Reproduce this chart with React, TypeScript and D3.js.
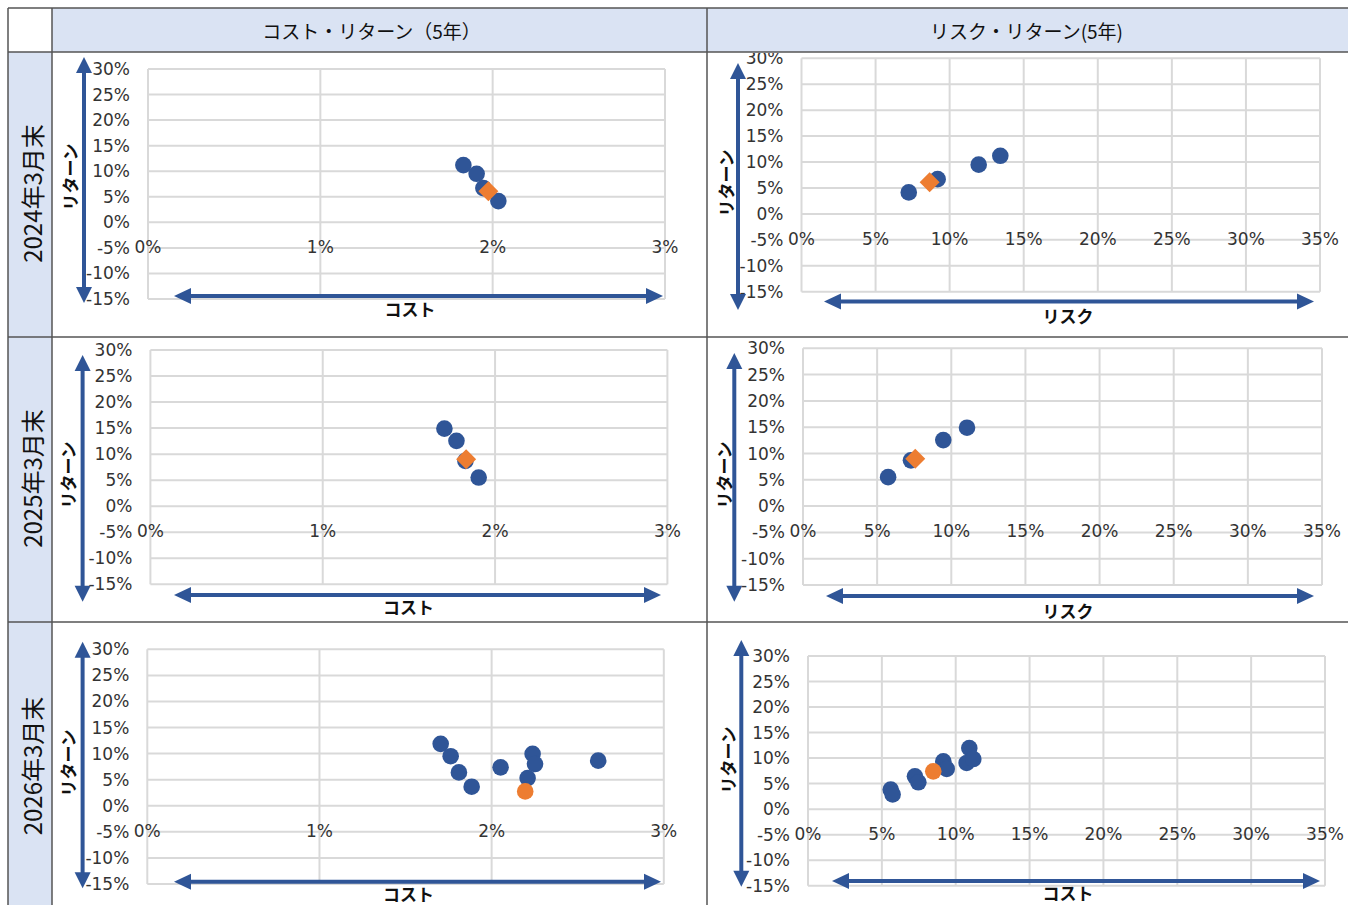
import React from "react";
import * as d3 from "d3";

// ---- Text ----
const headerLabels = ["コスト・リターン（5年）", "リスク・リターン(5年)"];
const rowLabels = ["2024年3月末", "2025年3月末", "2026年3月末"];
const returnTitle = "リターン";
const xTitles = [
  ["コスト", "リスク"],
  ["コスト", "リスク"],
  ["コスト", "コスト"],
];

// ---- Ticks (%) ----
const returnTicks = [-15, -10, -5, 0, 5, 10, 15, 20, 25, 30];
const costTicks = [0, 1, 2, 3];
const riskTicks = [0, 5, 10, 15, 20, 25, 30, 35];

// ---- 2024年3月末 ----
const cost2024 = [1.83, 1.907, 1.946, 2.033];
const risk2024 = [13.42, 11.96, 9.19, 7.24];
const return2024 = [11.2, 9.5, 6.7, 4.15];
const avgCost2024 = [1.975];
const avgRisk2024 = [8.65];
const avgReturn2024 = [6.1];

// ---- 2025年3月末 ----
const cost2025 = [1.706, 1.776, 1.828, 1.905];
const risk2025 = [11.06, 9.46, 7.28, 5.74];
const return2025 = [14.9, 12.55, 8.7, 5.5];
const avgCost2025 = [1.832];
const avgRisk2025 = [7.57];
const avgReturn2025 = [9.0];

// ---- 2026年3月末 (コスト・リターン) ----
const cost2026 = [1.704, 1.762, 1.81, 1.884, 2.052, 2.238, 2.252, 2.209, 2.619];
const returnCost2026 = [11.87, 9.5, 6.4, 3.65, 7.37, 9.94, 8.0, 5.3, 8.65];
const avgCost2026 = [2.195];
const avgReturnCost2026 = [2.75];

// ---- 2026年3月末 (リスク・リターン) ----
const risk2026 = [5.6, 5.73, 7.24, 7.47, 9.16, 9.39, 10.92, 10.74, 11.19];
const returnRisk2026 = [3.84, 2.87, 6.43, 5.26, 9.36, 7.87, 11.97, 9.04, 9.82];
const avgRisk2026 = [8.48];
const avgReturnRisk2026 = [7.4];

// ---- Styles ----
const BLUE = "#2f5597";
const ORANGE = "#ed7d31";
const GRID = "#d9d9d9";
const HEAD_FILL = "#dae3f3";
const BORDER = "#555555";
const TICK_FONT = "'DejaVu Sans', Verdana, sans-serif";
const JP_FONT = "'Noto Sans CJK JP', 'Noto Sans', sans-serif";

const colX = [8, 52, 707, 1352];
const rowY = [8, 52, 337, 622, 912];

type Geo = {
  x0: number; x1: number; y0: number; y1: number;
  ax: number; ay0: number; ay1: number;
  hy: number; hx0: number; hx1: number;
  ytx: number; yty: number; xtx: number; xty: number;
};

const geos: Geo[][] = [
  [
    { x0: 148, x1: 665, y0: 69, y1: 299, ax: 84, ay0: 57, ay1: 303, hy: 296, hx0: 174, hx1: 663, ytx: 69, yty: 177, xtx: 410, xty: 308 },
    { x0: 801.5, x1: 1320, y0: 58.3, y1: 291.7, ax: 738, ay0: 63, ay1: 310, hy: 301.5, hx0: 824, hx1: 1314, ytx: 725, yty: 183, xtx: 1068, xty: 315 },
  ],
  [
    { x0: 150.4, x1: 667.4, y0: 350, y1: 584.3, ax: 82.6, ay0: 355, ay1: 601.7, hy: 595, hx0: 174, hx1: 661, ytx: 67, yty: 475, xtx: 408.5, xty: 606.7 },
    { x0: 803, x1: 1322, y0: 348.3, y1: 585, ax: 734.3, ay0: 353, ay1: 601.7, hy: 596, hx0: 826, hx1: 1314, ytx: 723, yty: 475, xtx: 1068, xty: 610 },
  ],
  [
    { x0: 147.3, x1: 663.8, y0: 649.3, y1: 884, ax: 82.6, ay0: 641.7, ay1: 888.3, hy: 881.7, hx0: 174, hx1: 661, ytx: 67, yty: 763, xtx: 408.5, xty: 893 },
    { x0: 808, x1: 1325, y0: 656, y1: 885.7, ax: 741.3, ay0: 640, ay1: 886.7, hy: 881, hx0: 832, hx1: 1320, ytx: 727, yty: 760, xtx: 1068, xty: 892 },
  ],
];

type PanelData = {
  xTicks: number[];
  bx: number[]; by: number[];
  ox: number[]; oy: number[];
  orangeShape: "diamond" | "circle";
};

const panels: PanelData[][] = [
  [
    { xTicks: costTicks, bx: cost2024, by: return2024, ox: avgCost2024, oy: avgReturn2024, orangeShape: "diamond" },
    { xTicks: riskTicks, bx: risk2024, by: return2024, ox: avgRisk2024, oy: avgReturn2024, orangeShape: "diamond" },
  ],
  [
    { xTicks: costTicks, bx: cost2025, by: return2025, ox: avgCost2025, oy: avgReturn2025, orangeShape: "diamond" },
    { xTicks: riskTicks, bx: risk2025, by: return2025, ox: avgRisk2025, oy: avgReturn2025, orangeShape: "diamond" },
  ],
  [
    { xTicks: costTicks, bx: cost2026, by: returnCost2026, ox: avgCost2026, oy: avgReturnCost2026, orangeShape: "circle" },
    { xTicks: riskTicks, bx: risk2026, by: returnRisk2026, ox: avgRisk2026, oy: avgReturnRisk2026, orangeShape: "circle" },
  ],
];

const diamondPath = d3.symbol().type(d3.symbolSquare).size(200)() as string;

function DoubleArrowV({ x, y0, y1 }: { x: number; y0: number; y1: number }) {
  const h = 16, w = 8;
  return (
    <g fill={BLUE} stroke="none">
      <line x1={x} x2={x} y1={y0 + h - 1} y2={y1 - h + 1} stroke={BLUE} strokeWidth={4} />
      <path d={`M${x},${y0} L${x + w},${y0 + h} L${x - w},${y0 + h} Z`} />
      <path d={`M${x},${y1} L${x + w},${y1 - h} L${x - w},${y1 - h} Z`} />
    </g>
  );
}

function DoubleArrowH({ y, x0, x1 }: { y: number; x0: number; x1: number }) {
  const h = 17, w = 8;
  return (
    <g fill={BLUE} stroke="none">
      <line x1={x0 + h - 1} x2={x1 - h + 1} y1={y} y2={y} stroke={BLUE} strokeWidth={4} />
      <path d={`M${x0},${y} L${x0 + h},${y - w} L${x0 + h},${y + w} Z`} />
      <path d={`M${x1},${y} L${x1 - h},${y - w} L${x1 - h},${y + w} Z`} />
    </g>
  );
}

function Panel({ g, d, title, clipId }: { g: Geo; d: PanelData; title: string; clipId: string }) {
  const xMax = d.xTicks[d.xTicks.length - 1];
  const xs = d3.scaleLinear().domain([0, xMax]).range([g.x0, g.x1]);
  const ys = d3.scaleLinear().domain([-15, 30]).range([g.y1, g.y0]);
  const y0v = ys(0);
  return (
    <g clipPath={`url(#${clipId})`}>
      {returnTicks.map((t) => (
        <line key={"h" + t} x1={g.x0} x2={g.x1} y1={ys(t)} y2={ys(t)} stroke={GRID} strokeWidth={2} />
      ))}
      {d.xTicks.map((t) => (
        <line key={"v" + t} x1={xs(t)} x2={xs(t)} y1={g.y0} y2={g.y1} stroke={GRID} strokeWidth={2} />
      ))}
      {returnTicks.map((t) => (
        <text key={"yl" + t} x={g.x0 - 18} y={ys(t)} textAnchor="end" dominantBaseline="central"
          fontFamily={TICK_FONT} fontSize={17} fill="#333">{t + "%"}</text>
      ))}
      {d.xTicks.map((t) => (
        <text key={"xl" + t} x={xs(t)} y={y0v + 25} textAnchor="middle" dominantBaseline="central"
          fontFamily={TICK_FONT} fontSize={17} fill="#333">{t + "%"}</text>
      ))}
      <DoubleArrowV x={g.ax} y0={g.ay0} y1={g.ay1} />
      <DoubleArrowH y={g.hy} x0={g.hx0} x1={g.hx1} />
      <text transform={`translate(${g.ytx},${g.yty}) rotate(-90)`} textAnchor="middle" dominantBaseline="central"
        fontFamily={JP_FONT} fontWeight={700} fontSize={17} fill="#111">{returnTitle}</text>
      <text x={g.xtx} y={g.xty} textAnchor="middle" dominantBaseline="central"
        fontFamily={JP_FONT} fontWeight={700} fontSize={17} fill="#111">{title}</text>
      {d.bx.map((v, i) => (
        <circle key={"b" + i} cx={xs(v)} cy={ys(d.by[i])} r={8.3} fill={BLUE} />
      ))}
      {d.ox.map((v, i) =>
        d.orangeShape === "diamond" ? (
          <path key={"o" + i} d={diamondPath} transform={`translate(${xs(v)},${ys(d.oy[i])}) rotate(45)`} fill={ORANGE} />
        ) : (
          <circle key={"o" + i} cx={xs(v)} cy={ys(d.oy[i])} r={8.3} fill={ORANGE} />
        )
      )}
    </g>
  );
}

export default function App() {
  return (
    <svg width={1348} height={905} style={{ position: "absolute", left: 0, top: 0, display: "block", background: "#fff" }}>
      <defs>
        {[0, 1, 2].map((r) =>
          [0, 1].map((c) => (
            <clipPath id={`cell-${r}-${c}`} key={`cp${r}${c}`}>
              <rect x={colX[c + 1] + 1} y={rowY[r + 1] + 1} width={colX[c + 2] - colX[c + 1] - 2} height={rowY[r + 2] - rowY[r + 1] - 2} />
            </clipPath>
          ))
        )}
      </defs>
      {/* header fills */}
      <rect x={colX[1]} y={rowY[0]} width={colX[3] - colX[1]} height={rowY[1] - rowY[0]} fill={HEAD_FILL} />
      <rect x={colX[0]} y={rowY[1]} width={colX[1] - colX[0]} height={rowY[4] - rowY[1]} fill={HEAD_FILL} />
      {headerLabels.map((h, i) => (
        <text key={h} x={(colX[i + 1] + colX[i + 2]) / 2 + (i === 0 ? -8 : -3)} y={(rowY[0] + rowY[1]) / 2} textAnchor="middle"
          dominantBaseline="central" fontFamily={JP_FONT} fontSize={19} fill="#111">{h}</text>
      ))}
      {rowLabels.map((l, i) => (
        <text key={l} transform={`translate(${(colX[0] + colX[1]) / 2 + 1},${(rowY[i + 1] + rowY[i + 2]) / 2 - 1}) rotate(-90)`}
          textAnchor="middle" dominantBaseline="central" fontFamily={JP_FONT} fontSize={24} fill="#111">{l}</text>
      ))}
      {panels.map((row, r) =>
        row.map((p, c) => (
          <Panel key={`p${r}${c}`} g={geos[r][c]} d={p} title={xTitles[r][c]} clipId={`cell-${r}-${c}`} />
        ))
      )}
      {/* borders */}
      {rowY.map((y) => (
        <line key={"rb" + y} x1={colX[0]} x2={colX[3]} y1={y} y2={y} stroke={BORDER} strokeWidth={1.5} />
      ))}
      {colX.map((x) => (
        <line key={"cb" + x} x1={x} x2={x} y1={rowY[0]} y2={rowY[4]} stroke={BORDER} strokeWidth={1.5} />
      ))}
    </svg>
  );
}
